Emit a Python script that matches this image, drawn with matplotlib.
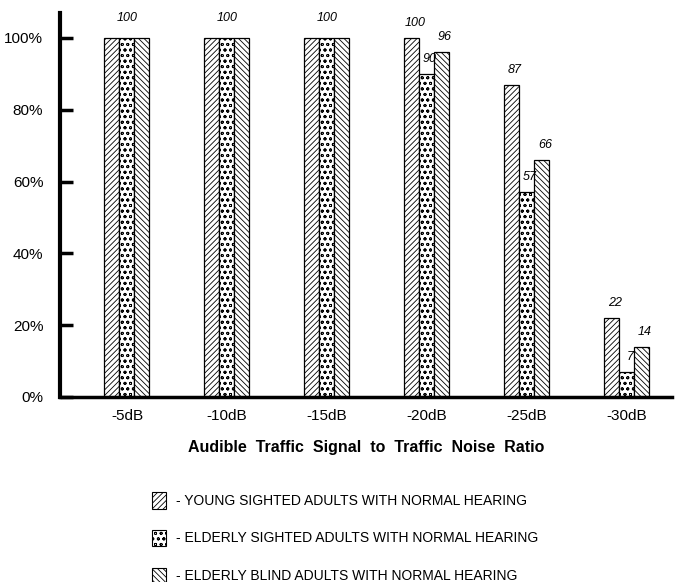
import matplotlib.pyplot as plt
import matplotlib.patches as mpatches
import numpy as np

plt.rcParams['font.family'] = ['Liberation Sans', 'DejaVu Sans']
plt.rcParams['hatch.linewidth'] = 0.6

categories = ["-5dB", "-10dB", "-15dB", "-20dB", "-25dB", "-30dB"]
young_sighted = [100, 100, 100, 100, 87, 22]
elderly_sighted = [100, 100, 100, 90, 57, 7]
elderly_blind = [100, 100, 100, 96, 66, 14]
series_names = ["YOUNG SIGHTED ADULTS WITH NORMAL HEARING",
                "ELDERLY SIGHTED ADULTS WITH NORMAL HEARING",
                "ELDERLY BLIND ADULTS WITH NORMAL HEARING"]
hatches = ["//////", "ooo", "\\\\\\\\\\\\"]
yticks = [0, 20, 40, 60, 80, 100]

fig = plt.figure(figsize=(6.82, 5.82), dpi=100)
ax = fig.add_axes([0.088, 0.318, 0.897, 0.66])

x = np.arange(len(categories))
w = 0.15
series = [young_sighted, elderly_sighted, elderly_blind]
for i, vals in enumerate(series):
    ax.bar(x + (i - 1) * w, vals, w, color="white", edgecolor="black",
           hatch=hatches[i], linewidth=0.9)

# value labels: one label when the whole group is at 100
for j in range(len(categories)):
    vals = [s[j] for s in series]
    if all(v == 100 for v in vals):
        ax.text(x[j], 104, str(vals[0]), ha="center", va="bottom",
                fontsize=9, style="italic")
    else:
        for i, v in enumerate(vals):
            ax.text(x[j] + (i - 1) * w + 0.03, v + 2.5, str(v), ha="center",
                    va="bottom", fontsize=9, style="italic")

ax.set_xlim(-0.67, 5.45)
ax.set_ylim(0, 107)
ax.set_yticks(yticks)
ax.set_yticklabels([f"{t}%" for t in yticks], fontsize=11)
ax.set_xticks(x)
ax.set_xticklabels(categories, fontsize=11)
ax.tick_params(axis="y", direction="in", length=9, width=2.5, pad=12)
ax.tick_params(axis="x", length=0, pad=9)
for s in ["top", "right"]:
    ax.spines[s].set_visible(False)
ax.spines["left"].set_linewidth(3)
ax.spines["bottom"].set_linewidth(2.5)

ax.set_xlabel("Audible  Traffic  Signal  to  Traffic  Noise  Ratio",
              fontsize=11.5, fontweight="bold", labelpad=12)

# legend drawn below the chart
for i, name in enumerate(series_names):
    yl = 0.14 - i * 0.065
    p = mpatches.Rectangle((0.223, yl - 0.014), 0.02, 0.028, transform=fig.transFigure,
                           facecolor="white", edgecolor="black", hatch=hatches[i],
                           linewidth=0.8)
    fig.patches.append(p)
    fig.text(0.258, yl, "- " + name, fontsize=10, va="center")

fig.savefig("out.png", dpi=100)
